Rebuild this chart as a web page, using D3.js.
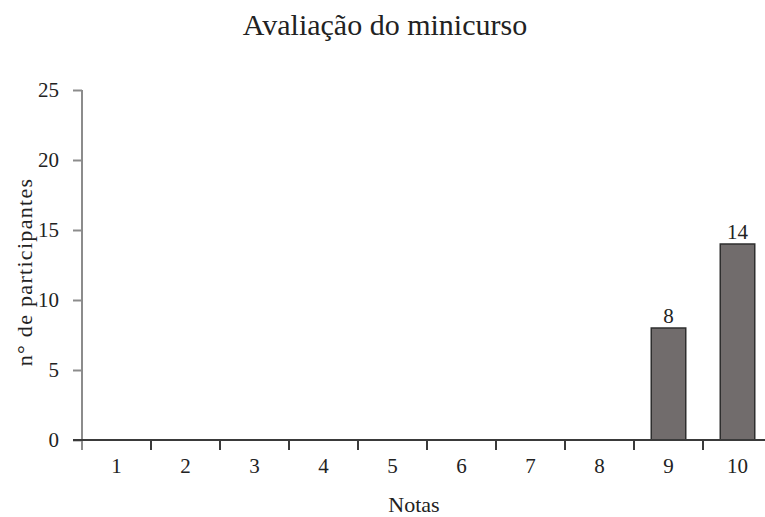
<!DOCTYPE html>
<html>
<head>
<meta charset="utf-8">
<script src="https://cdn.jsdelivr.net/npm/d3@7"></script>
<style>
  html, body { margin: 0; padding: 0; background: #fff; }
  svg { display: block; }
  text { font-family: "Liberation Serif", "DejaVu Serif", serif; fill: #222; }
</style>
</head>
<body>
<svg id="chart" width="765" height="517"></svg>
<script>
// Notas atribuídas ao minicurso e número de participantes por nota
const notas = ["1", "2", "3", "4", "5", "6", "7", "8", "9", "10"];
const participantes = [0, 0, 0, 0, 0, 0, 0, 0, 8, 14];
const yTicks = [0, 5, 10, 15, 20, 25];

const svg = d3.select("#chart");
const area = { left: 82, top: 90, bottom: 440, right: 772 };
const serif = "Liberation Serif, DejaVu Serif, serif";

const x = d3.scaleBand()
  .domain(notas)
  .range([area.left, area.right])
  .paddingInner(0.5)
  .paddingOuter(0.25);

const y = d3.scaleLinear()
  .domain([0, 25])
  .range([area.bottom, area.top]);

// Título
svg.append("text")
  .attr("x", 385)
  .attr("y", 35)
  .attr("text-anchor", "middle")
  .style("font-size", "30px")
  .text("Avaliação do minicurso");

// Eixo Y
const yAxis = svg.append("g")
  .attr("transform", `translate(${area.left},0)`)
  .call(d3.axisLeft(y).tickValues(yTicks).tickSize(9).tickPadding(14));
yAxis.attr("font-family", serif);
yAxis.select(".domain").attr("stroke", "#8c8c8c").attr("stroke-width", 2)
  .attr("d", `M0,${y(25)}V${y(0) + 10}`);
yAxis.selectAll(".tick line").attr("stroke", "#8c8c8c").attr("stroke-width", 2);
yAxis.selectAll(".tick text")
  .style("font-size", "21px")
  .style("font-family", serif)
  .attr("fill", "#222")
  .attr("dy", "0.33em");
yAxis.selectAll(".tick text").filter(d => d === 0).attr("x", -23);

// Dados das barras com valor
const barras = notas.map((n, i) => ({ nota: n, valor: participantes[i] })).filter(d => d.valor > 0);

svg.append("g")
  .selectAll("rect")
  .data(barras)
  .join("rect")
  .attr("x", d => x(d.nota))
  .attr("y", d => y(d.valor))
  .attr("width", x.bandwidth())
  .attr("height", d => y(0) - y(d.valor))
  .attr("fill", "#716c6c")
  .attr("stroke", "#2e2e2e")
  .attr("stroke-width", 1.5);

// Rótulos de valor
svg.append("g")
  .selectAll("text")
  .data(barras)
  .join("text")
  .attr("x", d => x(d.nota) + x.bandwidth() / 2)
  .attr("y", d => y(d.valor) - 5)
  .attr("text-anchor", "middle")
  .style("font-size", "21px")
  .text(d => d.valor);

// Eixo X: linha base e marcas entre as categorias
const xg = svg.append("g");
xg.append("line")
  .attr("x1", area.left - 9)
  .attr("x2", area.right)
  .attr("y1", y(0))
  .attr("y2", y(0))
  .attr("stroke", "#3a3a3a")
  .attr("stroke-width", 2);
const gap = (x.step() - x.bandwidth()) / 2;
xg.selectAll("line.sep")
  .data(notas.slice(1))
  .join("line")
  .attr("class", "sep")
  .attr("x1", d => x(d) - gap)
  .attr("x2", d => x(d) - gap)
  .attr("y1", y(0))
  .attr("y2", y(0) + 10)
  .attr("stroke", "#3a3a3a")
  .attr("stroke-width", 2);
xg.selectAll("text")
  .data(notas)
  .join("text")
  .attr("x", d => x(d) + x.bandwidth() / 2)
  .attr("y", 473)
  .attr("text-anchor", "middle")
  .style("font-size", "21px")
  .text(d => d);

// Títulos dos eixos
svg.append("text")
  .attr("x", 414)
  .attr("y", 512)
  .attr("text-anchor", "middle")
  .style("font-size", "22px")
  .text("Notas");

svg.append("text")
  .attr("transform", "translate(32,272) rotate(-90)")
  .attr("text-anchor", "middle")
  .style("font-size", "22px")
  .style("letter-spacing", "1.3px")
  .text("n° de participantes");
</script>
</body>
</html>
